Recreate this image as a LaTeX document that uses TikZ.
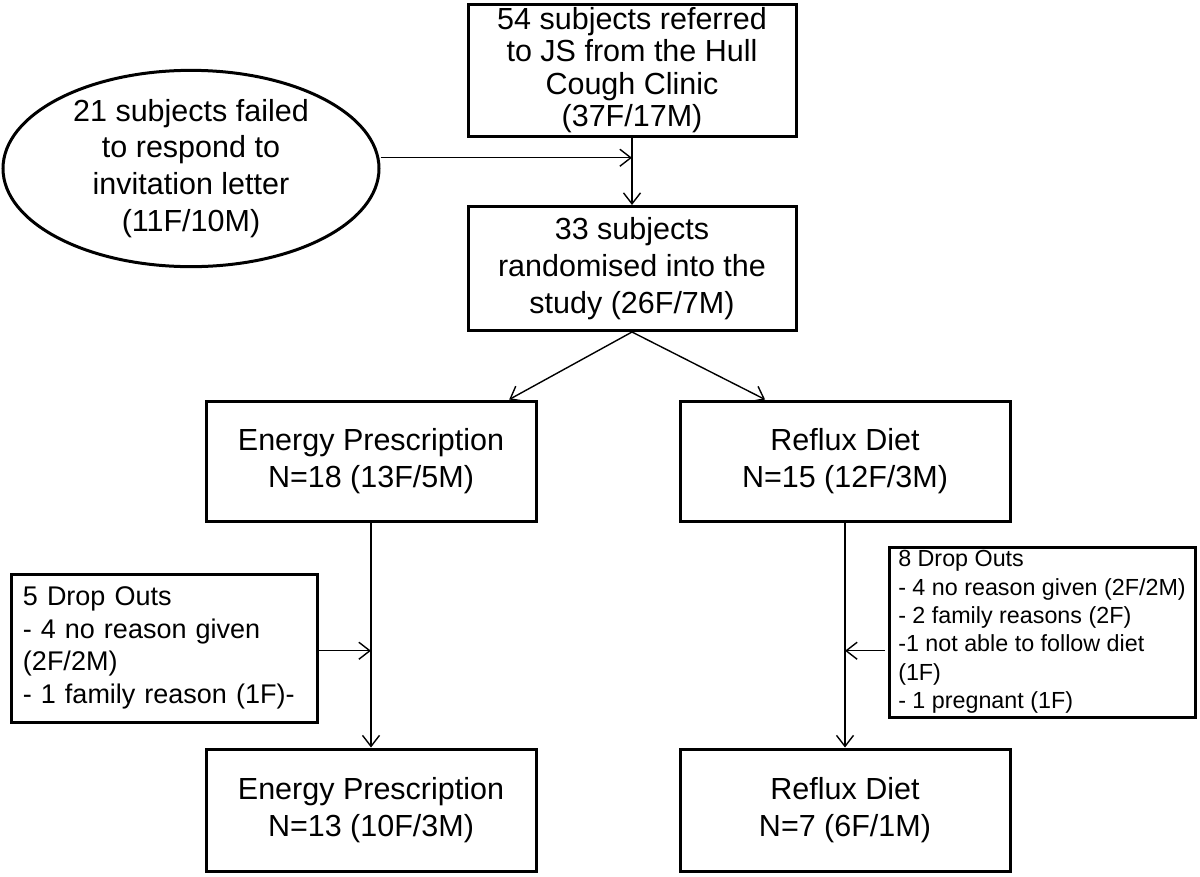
\documentclass[tikz,border=0pt]{standalone}
\usepackage{fontspec}
\setmainfont{Liberation Sans}
\usetikzlibrary{arrows.meta,calc,shapes.geometric}

\tikzset{
  box/.style={draw,line width=3pt,align=center,inner sep=0pt,
    font=\fontsize{30.5}{36.8}\selectfont},
  dropbox/.style={draw,line width=3pt,align=left,inner sep=0pt},
  arr/.style={line width=1.4pt,-{Straight Barb[length=11pt,width=17pt,line width=1.4pt]}}
}

\begin{document}
\begin{tikzpicture}[x=1pt,y=-1pt]
\useasboundingbox (0,0) rectangle (1200,876);

\node[box,minimum width=328,minimum height=132,font=\fontsize{30.5}{32.5}\selectfont]
  (refer) at (632,70) {54 subjects referred\\to JS from the Hull\\Cough Clinic\\(37F/17M)};
\node[box,ellipse,minimum width=376,minimum height=187]
  (fail) at (191,168.5) {21 subjects failed\\to respond to\\invitation letter\\(11F/10M)};
\node[box,minimum width=328,minimum height=124]
  (rand) at (632,268.5) {33 subjects\\randomised into the\\study (26F/7M)};

\node[box,minimum width=330,minimum height=120] (ep1) at (371,461) {Energy Prescription\\N=18 (13F/5M)};
\node[box,minimum width=330,minimum height=120] (rd1) at (845,461) {Reflux Diet\\N=15 (12F/3M)};
\node[box,minimum width=330,minimum height=122] (ep2) at (371,810) {Energy Prescription\\N=13 (10F/3M)};
\node[box,minimum width=330,minimum height=122] (rd2) at (845,810) {Reflux Diet\\N=7 (6F/1M)};

\node[dropbox,minimum width=306,minimum height=148,text width=282,
  font=\fontsize{27}{32.6}\selectfont] (dl) at (164,648)
  {5 Drop Outs\\- 4 no reason given\\(2F/2M)\\- 1 family reason (1F)-};
\node[dropbox,minimum width=306,minimum height=170,
  font=\fontsize{23.3}{28.4}\selectfont] (dr) at (1042,632)
  {8 Drop Outs\\- 4 no reason given (2F/2M)\\- 2 family reasons (2F)\\-1 not able to follow diet\\(1F)\\- 1 pregnant (1F)};

\coordinate (j) at ($(refer.south)!0.3!(rand.north)$);
\coordinate (d) at ($(ep1.south)!0.57!(ep2.north)$);

\draw[arr] (refer.south) -- (rand.north);
\draw[arr] (fail.east |- j) -- (j);
\draw[arr] (rand.south) -- ($(ep1.north west)!0.915!(ep1.north east)$);
\draw[arr] (rand.south) -- ($(rd1.north west)!0.26!(rd1.north east)$);
\draw[arr] (ep1.south) -- (ep2.north);
\draw[arr] (rd1.south) -- (rd2.north);
\draw[arr] (dl.east |- d) -- (d);
\draw[arr] ($(dr.west |- d)+(-3,0)$) -- (rd1.south |- d);

\end{tikzpicture}
\end{document}
